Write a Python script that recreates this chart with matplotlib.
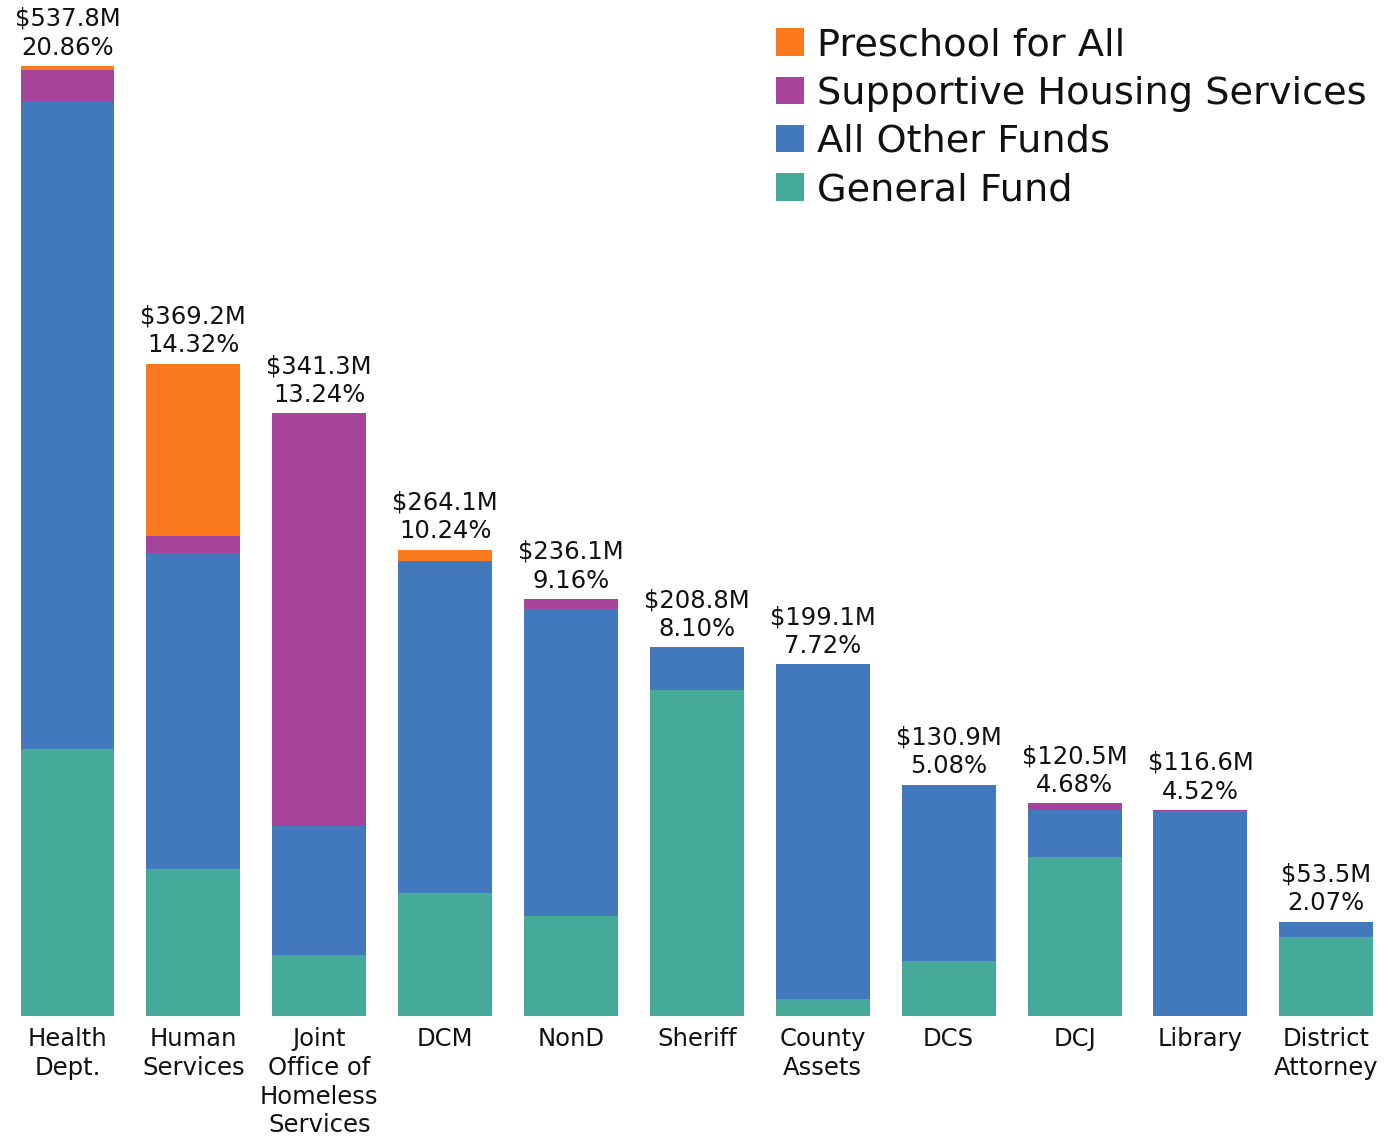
import matplotlib
matplotlib.use("Agg")
import matplotlib.pyplot as plt
from matplotlib.patches import Patch
import numpy as np

# Departments and their budget breakdown ($ millions)
departments = ["Health\nDept.", "Human\nServices", "Joint\nOffice of\nHomeless\nServices",
               "DCM", "NonD", "Sheriff", "County\nAssets", "DCS", "DCJ", "Library",
               "District\nAttorney"]
general_fund = [151.1, 83.2, 34.5, 69.6, 56.6, 184.4, 9.6, 31.1, 89.8, 0.0, 44.9]
all_other_funds = [367.1, 179.1, 73.1, 187.9, 173.7, 24.4, 189.5, 99.8, 26.8, 116.1, 8.1]
supportive_housing = [17.4, 9.5, 233.7, 0.0, 5.5, 0.0, 0.0, 0.0, 3.9, 0.5, 0.5]
preschool_for_all = [2.2, 97.4, 0.0, 6.6, 0.3, 0.0, 0.0, 0.0, 0.0, 0.0, 0.0]

total_labels = ["$537.8M", "$369.2M", "$341.3M", "$264.1M", "$236.1M", "$208.8M",
                "$199.1M", "$130.9M", "$120.5M", "$116.6M", "$53.5M"]
share_labels = ["20.86%", "14.32%", "13.24%", "10.24%", "9.16%", "8.10%",
                "7.72%", "5.08%", "4.68%", "4.52%", "2.07%"]

colors = {
    "Preschool for All": "#FB7A1F",
    "Supportive Housing Services": "#A5449A",
    "All Other Funds": "#4279BD",
    "General Fund": "#45AA9A",
}

plt.rcParams["font.family"] = ["DejaVu Sans"]

fig = plt.figure(figsize=(13.88, 11.41), dpi=100)
ax = fig.add_axes([0.0, 125 / 1141, 1.0, 1016 / 1141])

x = np.arange(len(departments))
width = 0.746

layers = [
    ("General Fund", general_fund),
    ("All Other Funds", all_other_funds),
    ("Supportive Housing Services", supportive_housing),
    ("Preschool for All", preschool_for_all),
]
bottom = np.zeros(len(departments))
for name, vals in layers:
    vals = np.array(vals)
    ax.bar(x, vals, width, bottom=bottom, color=colors[name], linewidth=0)
    bottom = bottom + vals

for xi, top, tl, sl in zip(x, bottom, total_labels, share_labels):
    ax.annotate(f"{tl}\n{sl}", (xi, top), xytext=(0, 4.6), textcoords="offset points",
                ha="center", va="bottom", fontsize=17.5, linespacing=1.25,
                color="#111111")

ax.set_xlim(-0.536, 10.49)
ax.set_ylim(0, 575.2)
ax.set_xticks(x)
ax.set_xticklabels(departments, fontsize=17.5, linespacing=1.25, color="#111111")
ax.tick_params(axis="x", length=0, pad=8)
ax.set_yticks([])
for s in ax.spines.values():
    s.set_visible(False)

handles = [Patch(facecolor=colors[n], edgecolor="none", label=n)
           for n in ["Preschool for All", "Supportive Housing Services",
                     "All Other Funds", "General Fund"]]
fig.legend(handles=handles, loc="upper left", bbox_to_anchor=(776 / 1388, 1 - 27.5 / 1141),
           frameon=False, fontsize=27.5, handlelength=0.74, handleheight=0.74,
           handletextpad=0.34, labelspacing=0.32, borderaxespad=0, borderpad=0,
           labelcolor="#111111")

fig.savefig("out.png", dpi=100, facecolor="white")
